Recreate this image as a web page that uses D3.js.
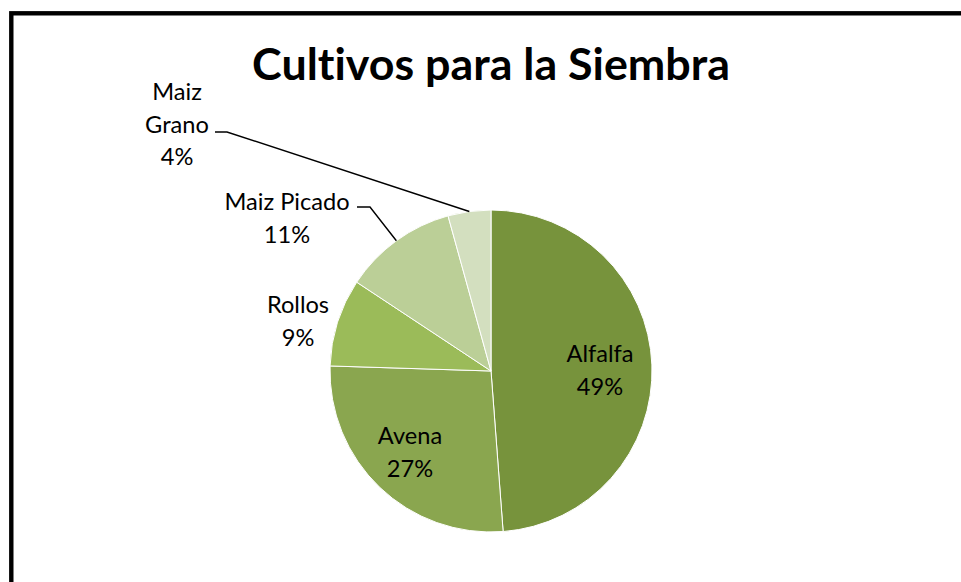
<!DOCTYPE html>
<html>
<head>
<meta charset="utf-8">
<script src="https://cdn.jsdelivr.net/npm/d3@7"></script>
<style>
  html, body { margin: 0; padding: 0; background: #fff; }
  svg { display: block; }
  text { font-family: Lato, "Open Sans", "Liberation Sans", sans-serif; font-variant-ligatures: none; font-feature-settings: "liga" 0, "clig" 0; }
</style>
</head>
<body>
<svg id="chart" width="961" height="582"></svg>
<script>
// ---- data ----
const title = "Cultivos para la Siembra";
const categories = ["Alfalfa", "Avena", "Rollos", "Maiz Picado", "Maiz Grano"];
const values = [48.8, 26.7, 8.8, 11.4, 4.3];
const colors = ["#77933C", "#8AA64F", "#9BBB59", "#BBCF97", "#D3DFBF"];

// ---- layout (not data) ----
const W = 961, H = 582;
const cx = 491, cy = 371, R = 161;
// label placement: centre x, first baseline y, lines, and leader elbow
const labelLayout = [
  { x: 600, y: 362, lines: ["Alfalfa"] },
  { x: 410, y: 444, lines: ["Avena"] },
  { x: 298, y: 313, lines: ["Rollos"] },
  { x: 287, y: 210, lines: ["Maiz Picado"], leader: [[357, 207], [370, 207]] },
  { x: 177, y: 100, lines: ["Maiz", "Grano"], leader: [[215, 132], [227, 132]] }
];
const lineH = 32.5;

const svg = d3.select("#chart");
svg.append("rect").attr("width", W).attr("height", H).attr("fill", "#fff");

// frame (cut off at right and bottom)
svg.append("rect")
  .attr("x", 11.3).attr("y", 13.3)
  .attr("width", 1200).attr("height", 1200)
  .attr("fill", "none").attr("stroke", "#000").attr("stroke-width", 4.4);

// title
const t = svg.append("text")
  .attr("x", cx).attr("y", 80)
  .attr("text-anchor", "middle")
  .attr("font-weight", "bold")
  .attr("font-size", 46)
  .attr("fill", "#000")
  .text(title);
{
  const w = t.node().getComputedTextLength();
  t.attr("font-size", 46 * 478 / w);
}

// pie
const total = d3.sum(values);
const pie = d3.pie().sort(null).value(d => d)(values);
const arc = d3.arc().innerRadius(0).outerRadius(R);

const g = svg.append("g").attr("transform", `translate(${cx},${cy})`);
g.selectAll("path.slice").data(pie).join("path")
  .attr("class", "slice")
  .attr("d", arc)
  .attr("fill", (d, i) => colors[i])
  .attr("stroke", "#fff")
  .attr("stroke-width", 1)
  .attr("stroke-linejoin", "round");

// label font size fit from "Alfalfa" width (~67px)
const probe = svg.append("text").attr("font-size", 26).text("Alfalfa");
const labelFS = 26 * 67 / probe.node().getComputedTextLength();
probe.remove();

const pctFmt = v => Math.round(v / total * 100) + "%";

pie.forEach((d, i) => {
  const L = labelLayout[i];
  const lines = L.lines.concat([pctFmt(values[i])]);
  const txt = svg.append("text")
    .attr("text-anchor", "middle")
    .attr("font-size", labelFS)
    .attr("fill", "#000");
  lines.forEach((s, k) => {
    txt.append("tspan").attr("x", L.x).attr("y", L.y + k * lineH).text(s);
  });
  if (L.leader) {
    const mid = (d.startAngle + d.endAngle) / 2;
    const ex = cx + R * Math.sin(mid), ey = cy - R * Math.cos(mid);
    const pts = [L.leader[0], L.leader[1], [ex, ey]];
    svg.append("path")
      .attr("d", d3.line()(pts))
      .attr("fill", "none")
      .attr("stroke", "#000")
      .attr("stroke-width", 1.4);
  }
});
</script>
</body>
</html>
